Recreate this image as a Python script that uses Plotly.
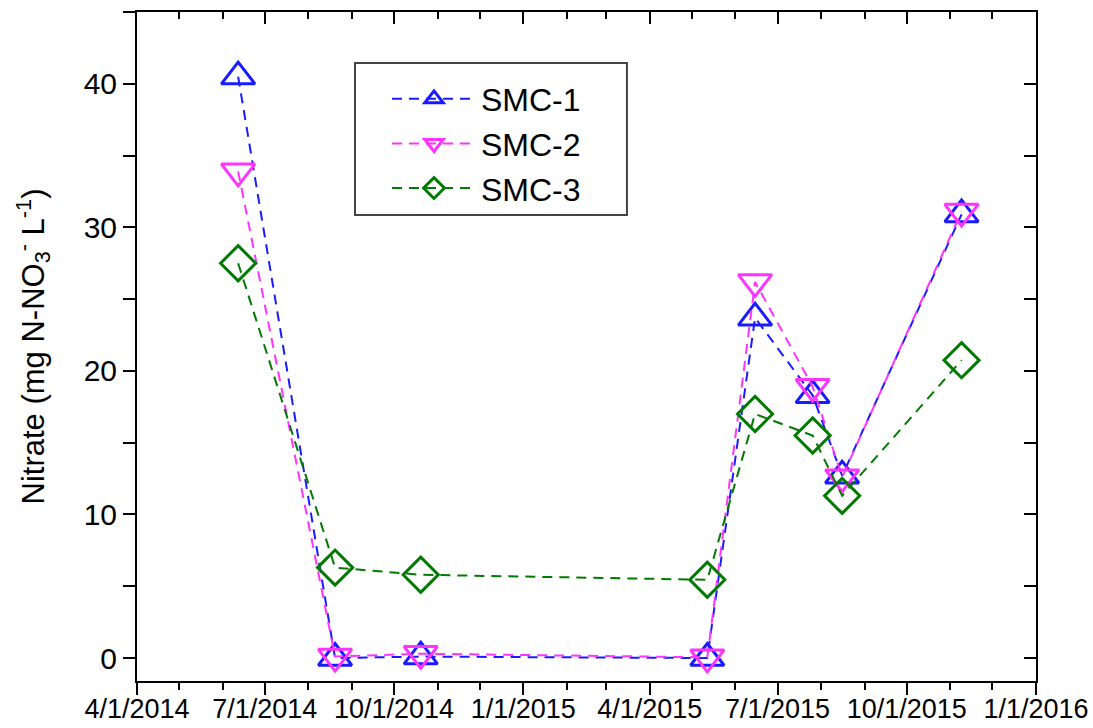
import plotly.graph_objects as go

# Sampling dates and nitrate concentrations (mg N-NO3- per L)
dates = ["2014-06-12", "2014-08-20", "2014-10-20", "2015-05-12",
         "2015-06-15", "2015-07-26", "2015-08-16", "2015-11-09"]
smc1 = [40.5, 0.0, 0.1, 0.0, 23.7, 18.3, 12.7, 30.9]
smc2 = [33.9, 0.1, 0.3, 0.05, 26.2, 18.9, 12.6, 31.1]
smc3 = [27.5, 6.3, 5.8, 5.45, 17.0, 15.5, 11.3, 20.75]

series_names = ["SMC-1", "SMC-2", "SMC-3"]
series_values = [smc1, smc2, smc3]
colors = ["#1a1aff", "#ff33ff", "#007a00"]
symbols = ["triangle-up-open", "triangle-down-open", "diamond-open"]
sizes = [29, 29, 27]

x_range = ["2014-04-01", "2016-01-01"]
y_range = [-1.6, 45]

FONT = "Arial, 'Liberation Sans', sans-serif"

fig = go.Figure()
for name, vals, col, sym, sz in zip(series_names, series_values, colors, symbols, sizes):
    fig.add_trace(go.Scatter(
        x=dates, y=vals, name=name, mode="lines+markers",
        line=dict(color=col, width=2, dash="10px,7px"),
        marker=dict(symbol=sym, size=sz, color=col, line=dict(color=col, width=3)),
    ))

# empty trace to anchor the mirrored top/right axes (inward ticks)
fig.add_trace(go.Scatter(x=[], y=[], xaxis="x2", yaxis="y2",
                         showlegend=False, hoverinfo="skip"))

axis_common = dict(showgrid=False, zeroline=False, showline=True, automargin=False,
                   linecolor="black", linewidth=2, tickcolor="black", tickwidth=2)

fig.update_layout(
    width=1093, height=728,
    margin=dict(l=137, r=57, t=12, b=47, autoexpand=False),
    paper_bgcolor="white", plot_bgcolor="white",
    font=dict(family=FONT, color="black", size=27),
    showlegend=True,
    xaxis=dict(
        type="date", range=x_range, tick0="2014-04-01", dtick="M3",
        tickformat="%-m/%-d/%Y", ticks="outside", ticklen=12,
        ticklabelstandoff=-9,
        minor=dict(dtick="M1", ticks="outside", ticklen=7,
                   tickcolor="black", tickwidth=2, showgrid=False),
        tickfont=dict(size=27), **axis_common),
    yaxis=dict(
        range=y_range, tick0=0, dtick=10, ticks="outside", ticklen=12,
        minor=dict(dtick=5, ticks="outside", ticklen=12,
                   tickcolor="black", tickwidth=2, showgrid=False),
        tickfont=dict(size=30),
        title=dict(text="Nitrate (mg N-NO<sub>3</sub><sup>-</sup> L<sup>-1</sup>)",
                   font=dict(size=31), standoff=30),
        **axis_common),
    xaxis2=dict(
        type="date", range=x_range, overlaying="x", side="top", anchor="y2",
        tick0="2014-04-01", dtick="M3", ticks="inside", ticklen=12,
        showticklabels=False,
        minor=dict(dtick="M1", ticks="inside", ticklen=7,
                   tickcolor="black", tickwidth=2, showgrid=False),
        **axis_common),
    yaxis2=dict(
        range=y_range, overlaying="y", side="right", anchor="x2",
        tick0=0, dtick=10, ticks="inside", ticklen=12, showticklabels=False,
        minor=dict(dtick=5, ticks="inside", ticklen=12,
                   tickcolor="black", tickwidth=2, showgrid=False),
        **axis_common),
    legend=dict(
        x=0.2781, y=0.911, xanchor="left", yanchor="top",
        bgcolor="rgba(0,0,0,0)", borderwidth=0,
        font=dict(size=32), itemwidth=84, tracegroupgap=0,
    ),
    shapes=[dict(type="rect", xref="paper", yref="paper",
                 x0=0.2425, x1=0.545, y0=0.6966, y1=0.9238,
                 line=dict(color="#444", width=2), layer="above")],
)

fig.write_html("out.html")
